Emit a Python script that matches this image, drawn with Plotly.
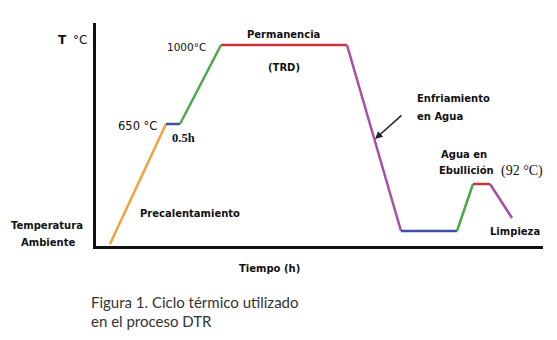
import plotly.graph_objects as go

# Schematic thermal cycle (arbitrary time / temperature units)
time_pts = [15, 71, 85, 126, 252, 306, 362, 378, 395, 417]
temp_pts = [1, 121, 121, 200, 200, 14, 14, 61, 61, 27]
seg_colors = ["#F2A23A", "#3D52A6", "#4CA84B", "#C8363C", "#A84EA8",
              "#3D52A6", "#4CA84B", "#C8363C", "#A84EA8"]

fig = go.Figure()
for i in range(len(time_pts) - 1):
    fig.add_trace(go.Scatter(
        x=time_pts[i:i + 2], y=temp_pts[i:i + 2], mode="lines",
        line=dict(color=seg_colors[i], width=2.5), showlegend=False,
        hoverinfo="skip"))

# page offset of the plotly div inside the browser body
OFF = 8
L, T, W, H = 88, 15, 447, 223

def px(x):
    return (x - OFF - L) / W

def py(y):
    return (T + H - (y - OFF)) / H

F = "DejaVu Sans"
def lab(text, x, y, size=10, xanchor="center", family=F, bold=True, color="#111"):
    t = f"<b>{text}</b>" if bold else text
    fig.add_annotation(x=px(x), y=py(y), xref="paper", yref="paper", text=t,
                       showarrow=False, xanchor=xanchor, yanchor="middle",
                       font=dict(family=family, size=size, color=color))

lab("T", 62, 40, size=12)
lab("°C", 80, 40, size=12, bold=False)
lab("1000°C", 186, 47, size=10.5, bold=False)
lab("Permanencia", 283, 34)
lab("(TRD)", 284, 67)
lab("650 °C", 137, 126, size=11.5, bold=False)
lab("0.5h", 183, 138, size=12.5, family="Liberation Serif")
lab("Enfriamiento", 415, 98, xanchor="left")
lab("en Agua", 415, 116, xanchor="left")
lab("Agua en", 439, 155, xanchor="left")
lab("Ebullición", 437, 171, xanchor="left")
lab("(92 °C)", 499, 171, size=14, family="Liberation Serif", xanchor="left", bold=False)
lab("Limpieza", 488, 231, xanchor="left")
lab("Precalentamiento", 138, 213, xanchor="left")
lab("Temperatura", 47, 225)
lab("Ambiente", 48, 242)
lab("Tiempo (h)", 269, 268)
lab("Figura 1. Ciclo térmico utilizado", 89, 302, size=15, family="Lato",
    xanchor="left", bold=False, color="#333")
lab("en el proceso DTR", 89, 321, size=15, family="Lato",
    xanchor="left", bold=False, color="#333")

# arrow pointing to the cooling line
fig.add_annotation(x=px(375), y=py(139), ax=28, ay=-25,
                   xref="paper", yref="paper", axref="pixel", ayref="pixel", text="",
                   showarrow=True, arrowhead=2, arrowsize=1, arrowwidth=1.5,
                   arrowcolor="#222")

fig.update_layout(
    width=557, height=340, margin=dict(l=L, r=557 - L - W, t=T, b=340 - T - H),
    paper_bgcolor="white", plot_bgcolor="white",
    xaxis=dict(range=[1, 448], showgrid=False, zeroline=False, showticklabels=False,
               ticks="", showline=True, linecolor="#111", linewidth=3),
    yaxis=dict(range=[-1, 222], showgrid=False, zeroline=False, showticklabels=False,
               ticks="", showline=True, linecolor="#111", linewidth=3),
)
fig.write_html("out.html")
